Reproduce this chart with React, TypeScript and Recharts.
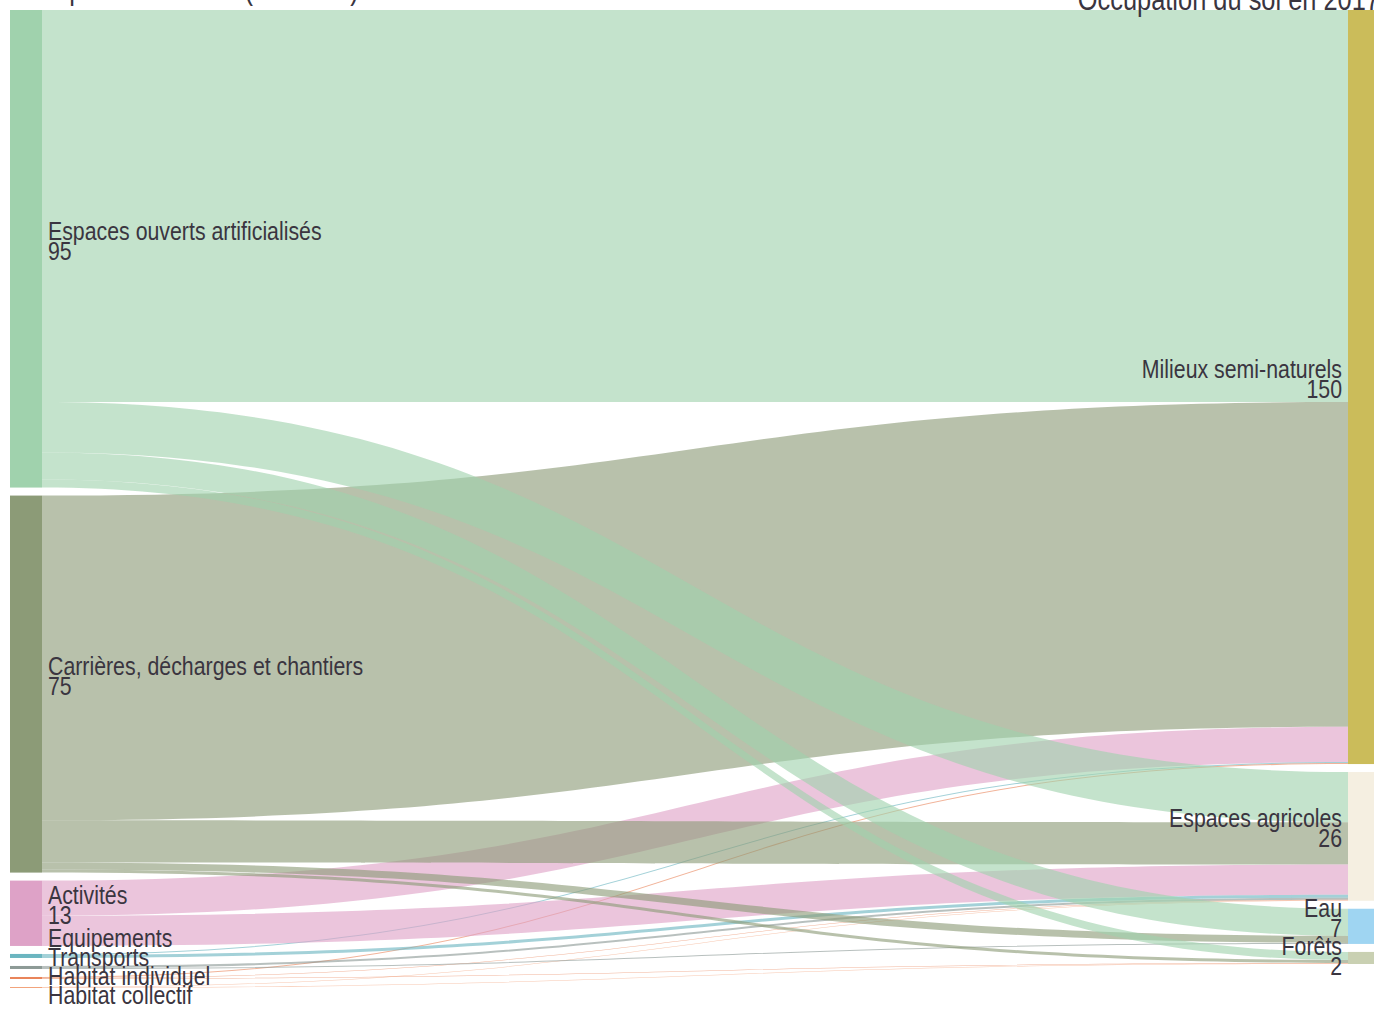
import { Sankey } from "recharts";

// Categories: land use before (left) and in 2017 (right)
const sources = [
  "Espaces ouverts artificialisés",
  "Carrières, décharges et chantiers",
  "Activités",
  "Equipements",
  "Transports",
  "Habitat individuel",
  "Habitat collectif",
];
const targets = ["Milieux semi-naturels", "Espaces agricoles", "Eau", "Forêts"];

// hectares flowing from each source (same order as `sources`) to each target
const toMilieux = [78, 64.6, 7, 0.2, 0, 0.2, 0];
const toAgricoles = [10, 8.4, 6, 0.6, 0.4, 0.1, 0.1];
const toEau = [5.4, 1.4, 0, 0, 0.2, 0, 0];
const toForets = [1.6, 0.6, 0, 0, 0, 0.1, 0.1];

const flows = [toMilieux, toAgricoles, toEau, toForets];

const colors: Record<string, string> = {
  "Espaces ouverts artificialisés": "#a0d2ad",
  "Carrières, décharges et chantiers": "#8c9b77",
  Activités: "#dea2c7",
  Equipements: "#6bb5c0",
  Transports: "#8d9a96",
  "Habitat individuel": "#e9845a",
  "Habitat collectif": "#f2a37c",
  "Milieux semi-naturels": "#cbbc5a",
  "Espaces agricoles": "#f5efe1",
  Eau: "#9fd5f2",
  Forêts: "#c9d0b2",
};

const nodes = [...sources, ...targets].map((name) => ({ name }));
const links = flows.flatMap((row, t) =>
  row
    .map((value, s) => ({ source: s, target: sources.length + t, value }))
    .filter((l) => l.value > 0)
);
const data = { nodes, links };

const FONT = "'Liberation Sans', Arial, sans-serif";
const TEXT = "#3a3540";
const SQUEEZE = 0.82; // condensed look

function Label({ x, y, anchor, size = 26, children }: any) {
  return (
    <text
      transform={`translate(${x},${y}) scale(${SQUEEZE},1)`}
      textAnchor={anchor}
      fontFamily={FONT}
      fontSize={size}
      fill={TEXT}
    >
      {children}
    </text>
  );
}

// label stacking so small nodes don't print on top of each other
const labelBottoms = new Map<number, { depth: number; bottom: number }>();

function NodeShape(props: any) {
  const { x, y, width, height, index, payload } = props;
  const left = payload.depth === 0;
  let nameCenter = y + height / 2 - 18;
  const prev = labelBottoms.get(index - 1);
  if (prev && prev.depth === payload.depth) {
    nameCenter = Math.max(nameCenter, prev.bottom + 19);
  }
  const showValue = payload.value >= 1;
  labelBottoms.set(index, {
    depth: payload.depth,
    bottom: showValue ? nameCenter + 19 : nameCenter,
  });
  const tx = left ? x + width + 6 : x - 6;
  const anchor = left ? "start" : "end";
  return (
    <g>
      <rect x={x} y={y} width={width} height={height} fill={colors[payload.name]} />
      <Label x={tx} y={nameCenter + 9} anchor={anchor}>
        {payload.name}
      </Label>
      {showValue && (
        <Label x={tx} y={nameCenter + 29} anchor={anchor}>
          {Math.round(payload.value)}
        </Label>
      )}
    </g>
  );
}

function LinkShape(props: any) {
  const { sourceX, sourceY, targetX, targetY, sourceControlX, targetControlX, linkWidth, payload } =
    props;
  const h = linkWidth / 2;
  const d = `M${sourceX},${sourceY - h} C${sourceControlX},${sourceY - h} ${targetControlX},${targetY - h} ${targetX},${targetY - h} L${targetX},${targetY + h} C${targetControlX},${targetY + h} ${sourceControlX},${sourceY + h} ${sourceX},${sourceY + h} Z`;
  return <path d={d} fill={colors[payload.source.name]} fillOpacity={0.62} stroke="none" />;
}

export default function App() {
  return (
    <div style={{ position: "absolute", left: 0, top: 0, width: 1374, height: 1010, background: "#fff" }}>
      <Sankey
        width={1374}
        height={1010}
        data={data}
        nodeWidth={32}
        nodePadding={8}
        iterations={0}
        sort={false}
        linkCurvature={0.5}
        margin={{ top: 10, left: 10, right: -6, bottom: 22 }}
        node={NodeShape}
        link={LinkShape}
      />
      <svg
        width={1374}
        height={1010}
        style={{ position: "absolute", left: 0, top: 0, pointerEvents: "none" }}
      >
        <Label x={10} y={-1} anchor="start" size={31}>
          Occupation en 2012 (hectares)
        </Label>
        <Label x={1380} y={10} anchor="end" size={31}>
          Occupation du sol en 2017
        </Label>
      </svg>
    </div>
  );
}
